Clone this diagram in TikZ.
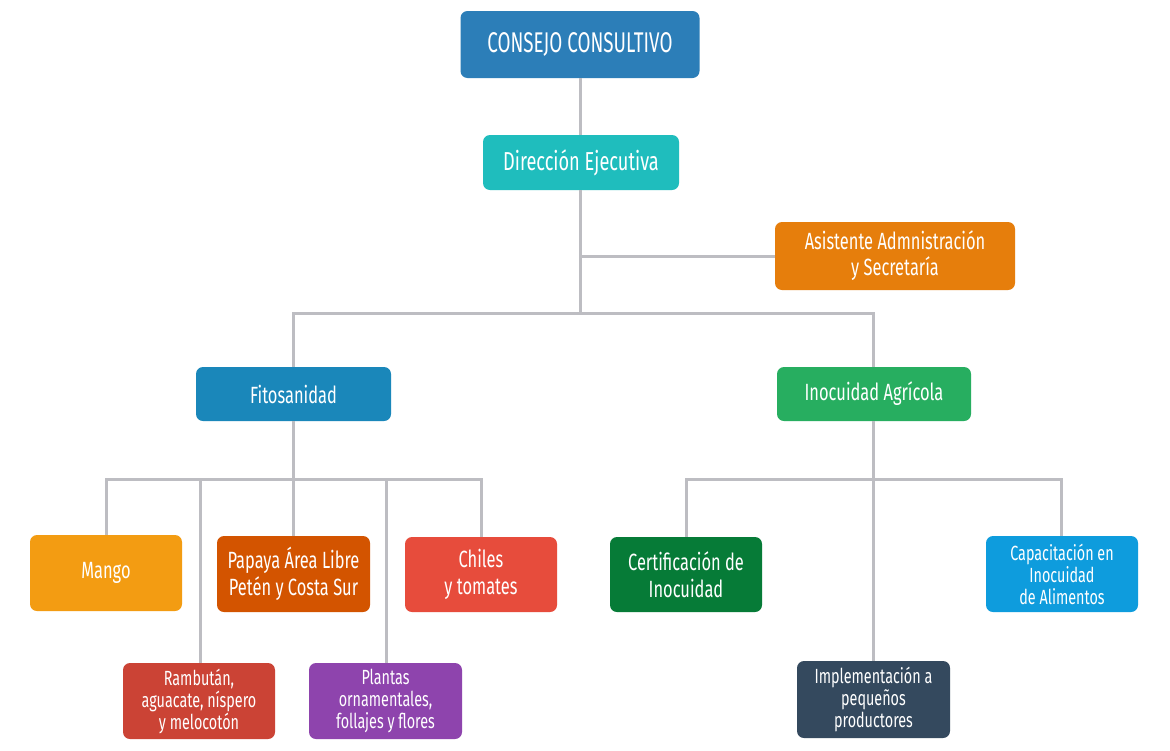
\documentclass[tikz,border=0pt]{standalone}
\usepackage{fontspec}
\setmainfont{Fira Sans}[FakeStretch=0.7]
\newfontfamily\titlefont{Fira Sans}[FakeStretch=0.66]
\definecolor{cConsejo}{HTML}{2C7EB8}
\definecolor{cDir}{HTML}{1FBDBD}
\definecolor{cAsis}{HTML}{E67E0C}
\definecolor{cFito}{HTML}{1A87BA}
\definecolor{cInoc}{HTML}{27AE60}
\definecolor{cMango}{HTML}{F39C12}
\definecolor{cPapaya}{HTML}{D35400}
\definecolor{cChiles}{HTML}{E74C3C}
\definecolor{cRamb}{HTML}{CB4335}
\definecolor{cPlantas}{HTML}{8E44AD}
\definecolor{cCert}{HTML}{067B37}
\definecolor{cCapac}{HTML}{0E9CDD}
\definecolor{cImpl}{HTML}{34495E}
\definecolor{cLine}{HTML}{BDBDC2}
\begin{document}
\begin{tikzpicture}[x=1pt,y=-1pt,
  box/.style={rounded corners=7pt,inner sep=0pt,text=white,align=center,anchor=center},
  big/.style={font=\fontsize{23.5}{27}\selectfont},
  small/.style={font=\fontsize{20.5}{22}\selectfont},
  conn/.style={draw=cLine,line width=3pt}]
\useasboundingbox[fill=white] (0,0) rectangle (1170,750);
\node[box,fill=cConsejo,minimum width=239pt,minimum height=67pt,font=\titlefont\fontsize{28.5}{30}\selectfont] (consejo) at (580,44.5) {CONSEJO CONSULTIVO};
\node[box,fill=cDir,minimum width=196pt,minimum height=55pt,font=\fontsize{26}{27}\selectfont] (dir) at (581,162.5) {Dirección Ejecutiva};
\node[box,fill=cAsis,minimum width=240pt,minimum height=68pt,font=\fontsize{23.5}{26}\selectfont] (asis) at (895,256) {Asistente Admnistración\\y Secretaría};
\node[box,big,fill=cFito,minimum width=195pt,minimum height=54pt] (fito) at (293.5,394) {Fitosanidad};
\node[box,big,fill=cInoc,minimum width=194pt,minimum height=54pt] (inoc) at (874,394) {Inocuidad Agrícola};
\node[box,big,fill=cMango,minimum width=152pt,minimum height=76pt] (mango) at (106,573) {Mango};
\node[box,big,fill=cPapaya,minimum width=153pt,minimum height=76pt] (papaya) at (293.5,574) {Papaya Área Libre\\Petén y Costa Sur};
\node[box,big,fill=cChiles,minimum width=152pt,minimum height=75pt] (chiles) at (481,574.5) {Chiles\\y tomates};
\node[box,small,fill=cRamb,minimum width=152pt,minimum height=76pt] (ramb) at (199,701) {Rambután,\\aguacate, níspero\\y melocotón};
\node[box,small,fill=cPlantas,minimum width=153pt,minimum height=76pt] (plantas) at (385.5,701) {Plantas\\ornamentales,\\follajes y flores};
\node[box,big,fill=cCert,minimum width=152pt,minimum height=75pt] (cert) at (686,574.5) {Certificación de\\Inocuidad};
\node[box,small,fill=cCapac,minimum width=152pt,minimum height=76pt] (capac) at (1062,574) {Capacitación en\\Inocuidad\\de Alimentos};
\node[box,small,fill=cImpl,minimum width=153pt,minimum height=77pt] (impl) at (873.5,699.5) {Implementación a\\pequeños\\productores};
% junction coordinates
\coordinate (j1) at (580,256);
\coordinate (j2) at (580,313);
\coordinate (jl) at (293,313);
\coordinate (jr) at (873,313);
\coordinate (f1) at (293,479);
\coordinate (fl) at (106,479);
\coordinate (fr) at (481,479);
\coordinate (fa) at (200,479);
\coordinate (fb) at (386,479);
\coordinate (i1) at (873,479);
\coordinate (il) at (686,479);
\coordinate (ir) at (1061,479);
\draw[conn] (consejo.south -| j1) -- (dir.north -| j1);
\draw[conn] (dir.south -| j1) -- (j2);
\draw[conn] (j1) -- (asis.west |- j1);
\draw[conn] (fito.north -| jl) |- (jl) -- (jr) -- (inoc.north -| jr);
\draw[conn] (fito.south -| f1) -- (f1);
\draw[conn] (mango.north -| fl) -- (fl) -- (fr) -- (chiles.north -| fr);
\draw[conn] (fa) -- (ramb.north -| fa);
\draw[conn] (f1) -- (papaya.north -| f1);
\draw[conn] (fb) -- (plantas.north -| fb);
\draw[conn] (inoc.south -| i1) -- (impl.north -| i1);
\draw[conn] (cert.north -| il) -- (il) -- (ir) -- (capac.north -| ir);
\end{tikzpicture}
\end{document}
